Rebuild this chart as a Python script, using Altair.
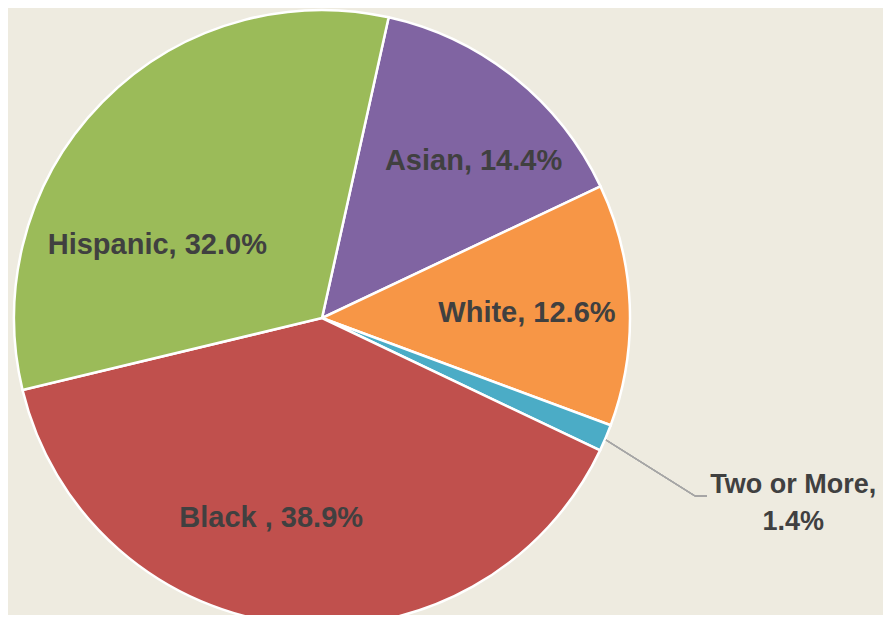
import math
import altair as alt
import pandas as pd

races = ["Asian", "White", "Two or More", "Black", "Hispanic"]
shares = [14.4, 12.6, 1.4, 38.9, 32.0]
labels = ["Asian, 14.4%", "White, 12.6%", "Two or More,\n1.4%", "Black , 38.9%", "Hispanic, 32.0%"]
colors = ["#8064A2", "#F79646", "#4BACC6", "#C0504D", "#9BBB59"]

df = pd.DataFrame({"race": races, "share": shares, "label": labels, "order": list(range(len(races)))})

CX, CY, R = 314, 310, 308
start = math.radians(12.5)

theta = alt.Theta("share:Q", stack=True, scale=alt.Scale(range=[start, start + 2 * math.pi]))
order = alt.Order("order:Q")

base = alt.Chart(df)

arcs = base.mark_arc(outerRadius=R, stroke="white", strokeWidth=2.5).encode(
    theta=theta,
    order=order,
    color=alt.Color("race:N", scale=alt.Scale(domain=races, range=colors), legend=None),
    x=alt.value(CX),
    y=alt.value(CY),
)

# label placement (radius, theta offset in radians, font size) per slice
place = {
    "Asian": (218, 0.095, 29),
    "White": (205, 0.017, 29),
    "Hispanic": (180, -0.361, 29),
    "Black": (206, 0.145, 29),
    "Two or More": (500, -0.059, 27),
}

text_layers = []
for name in races:
    rad, off, fs = place[name]
    t = base.mark_text(
        radius=rad,
        thetaOffset=off,
        font="Liberation Sans",
        fontSize=fs,
        fontWeight="bold",
        color="#404040",
        align="center",
        baseline="middle",
        lineBreak="\n",
        lineHeight=37,
    ).encode(
        theta=theta,
        order=order,
        text=alt.condition(alt.datum.race == name, alt.Text("label:N"), alt.value("")),
        x=alt.value(CX),
        y=alt.value(CY),
    )
    text_layers.append(t)

leader1 = base.mark_rule(color="#A6A6A6", strokeWidth=1.2).encode(
    x=alt.value(598), y=alt.value(432), x2=alt.value(687), y2=alt.value(488)
)
leader2 = base.mark_rule(color="#A6A6A6", strokeWidth=1.2).encode(
    x=alt.value(687), y=alt.value(488), x2=alt.value(699), y2=alt.value(488)
)

chart = alt.layer(arcs, leader1, leader2, *text_layers).properties(
    width=875, height=607, padding=0, autosize=alt.AutoSizeParams(type="none"),
    background="#EEEBE0",
).configure_view(stroke=None)

chart.save("out.html", embed_options={"renderer": "svg", "actions": False})
